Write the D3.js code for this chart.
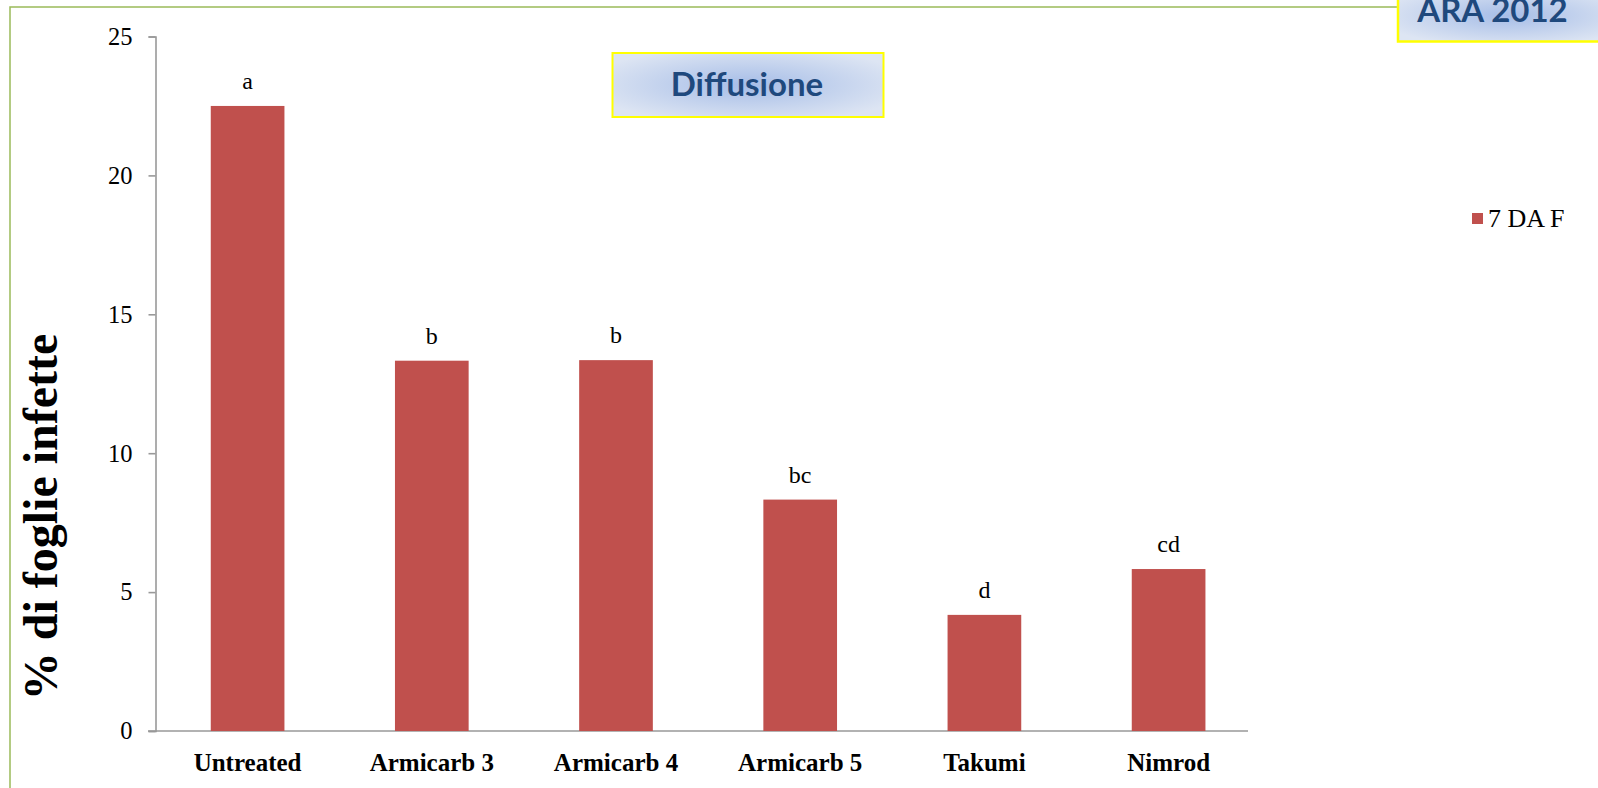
<!DOCTYPE html>
<html>
<head>
  <meta charset="utf-8">
  <script src="https://cdn.jsdelivr.net/npm/d3@7"></script>
  <style>
    body { margin: 0; background: #fff; }
    svg { display: block; }
  </style>
</head>
<body>
  <svg id="chart" width="1598" height="788"></svg>
  <script>
    // data
    let categories = ["Untreated", "Armicarb 3", "Armicarb 4", "Armicarb 5", "Takumi", "Nimrod"]
    let values = [22.5, 13.33, 13.35, 8.33, 4.18, 5.83]
    let letters = ["a", "b", "b", "bc", "d", "cd"]
    let yTicks = [0, 5, 10, 15, 20, 25]
    let seriesName = "7 DA F"
    let yTitle = "% di foglie infette"
    let boxTitle = "Diffusione"
    let cornerTitle = "ARA 2012"

    let svg = d3.select("#chart")
    let serif = "'Liberation Serif', 'Times New Roman', serif"
    let sans = "Lato, 'Open Sans', sans-serif"

    let defs = svg.append("defs")
    let grad = defs.append("radialGradient")
      .attr("id", "blueGrad")
      .attr("cx", "50%").attr("cy", "50%").attr("r", "60%")
    grad.append("stop").attr("offset", "0%").attr("stop-color", "#a6bde7")
    grad.append("stop").attr("offset", "100%").attr("stop-color", "#dde5f3")

    // green frame
    svg.append("rect")
      .attr("x", 10).attr("y", 7)
      .attr("width", 1700).attr("height", 900)
      .attr("fill", "none")
      .attr("stroke", "#9bbb59")
      .attr("stroke-width", 1.5)

    let scX = d3.scaleBand()
      .domain(categories)
      .range([155.5, 1260.7])
      .paddingInner(0.6)
      .paddingOuter(0.3)

    let scY = d3.scaleLinear()
      .domain([0, 25])
      .range([731, 36.5])

    // y axis
    let yAxis = svg.append("g")
      .attr("transform", "translate(155.5,0)")
      .call(d3.axisLeft(scY).tickValues(yTicks).tickSize(7).tickSizeOuter(7).tickPadding(16))
    yAxis.select(".domain").attr("stroke", "#999").attr("stroke-width", 1.6)
    yAxis.selectAll(".tick line").attr("stroke", "#999").attr("stroke-width", 1.6)
    yAxis.selectAll(".tick text")
      .attr("font-family", serif)
      .attr("font-size", 24.5)
      .attr("fill", "#000")

    // x axis line
    svg.append("line")
      .attr("x1", 148).attr("x2", 1248)
      .attr("y1", scY(0)).attr("y2", scY(0))
      .attr("stroke", "#999").attr("stroke-width", 1.6)

    // bars
    svg.selectAll("rect.bar")
      .data(categories)
      .enter()
      .append("rect")
      .attr("class", "bar")
      .attr("x", d => scX(d))
      .attr("width", scX.bandwidth())
      .attr("y", (d, i) => scY(values[i]))
      .attr("height", (d, i) => scY(0) - scY(values[i]))
      .attr("fill", "#c0504d")

    // letters over bars
    svg.selectAll("text.letter")
      .data(categories)
      .enter()
      .append("text")
      .attr("class", "letter")
      .attr("x", d => scX(d) + scX.bandwidth() / 2)
      .attr("y", (d, i) => scY(values[i]) - 17)
      .attr("text-anchor", "middle")
      .attr("font-family", serif)
      .attr("font-size", 24)
      .text((d, i) => letters[i])

    // category labels
    svg.selectAll("text.cat")
      .data(categories)
      .enter()
      .append("text")
      .attr("class", "cat")
      .attr("x", d => scX(d) + scX.bandwidth() / 2)
      .attr("y", 770.5)
      .attr("text-anchor", "middle")
      .attr("font-family", serif)
      .attr("font-weight", "bold")
      .attr("font-size", 25)
      .text(d => d)

    // y title
    svg.append("text")
      .attr("transform", "translate(57,517) rotate(-90)")
      .attr("text-anchor", "middle")
      .attr("font-family", serif)
      .attr("font-weight", "bold")
      .attr("font-size", 48)
      .text(yTitle)

    // legend
    svg.append("rect")
      .attr("x", 1472).attr("y", 213)
      .attr("width", 11).attr("height", 11)
      .attr("fill", "#c0504d")
    svg.append("text")
      .attr("x", 1488).attr("y", 226.5)
      .attr("font-family", serif)
      .attr("font-size", 26)
      .text(seriesName)

    // Diffusione box
    svg.append("rect")
      .attr("x", 612.5).attr("y", 53)
      .attr("width", 271).attr("height", 64)
      .attr("fill", "url(#blueGrad)")
      .attr("stroke", "#ffff00").attr("stroke-width", 2)
    svg.append("text")
      .attr("x", 747).attr("y", 95.5)
      .attr("text-anchor", "middle")
      .attr("font-family", sans)
      .attr("font-weight", "bold")
      .attr("font-size", 33)
      .attr("fill", "#1f497d")
      .text(boxTitle)

    // corner box
    svg.append("rect")
      .attr("x", 1398).attr("y", -10)
      .attr("width", 220).attr("height", 51.5)
      .attr("fill", "url(#blueGrad)")
      .attr("stroke", "#ffff00").attr("stroke-width", 2.5)
    svg.append("text")
      .attr("x", 1492.5).attr("y", 22)
      .attr("text-anchor", "middle")
      .attr("font-family", sans)
      .attr("font-weight", "bold")
      .attr("font-size", 33)
      .attr("fill", "#1f497d")
      .text(cornerTitle)
  </script>
</body>
</html>
